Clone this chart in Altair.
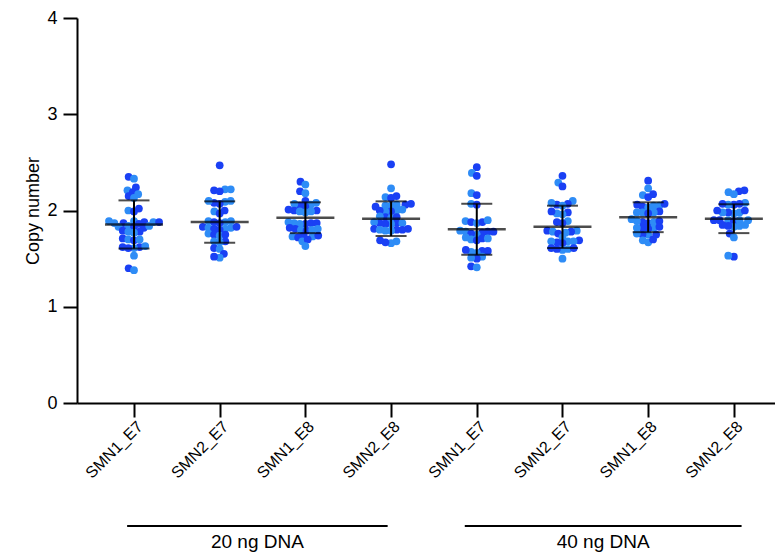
import math
import altair as alt
import pandas as pd

# ---------------- data ----------------
categories = ["SMN1_E7", "SMN2_E7", "SMN1_E8", "SMN2_E8",
              "SMN1_E7", "SMN2_E7", "SMN1_E8", "SMN2_E8"]
group_names = ["20 ng DNA", "40 ng DNA"]
group_start = [-0.08, 3.86]
group_end = [2.96, 7.09]

g1 = [2.35, 2.33, 2.24, 2.21, 2.19, 2.17, 2.15, 2.13, 2.02, 2.00, 1.99, 1.89, 1.88, 1.88,
      1.87, 1.89, 1.88, 1.87, 1.86, 1.84, 1.83, 1.83, 1.82, 1.84, 1.79, 1.78, 1.78, 1.77,
      1.71, 1.70, 1.69, 1.70, 1.62, 1.61, 1.62, 1.63, 1.61, 1.53, 1.40, 1.38]
g2 = [2.47, 2.22, 2.21, 2.22, 2.20, 2.10, 2.08, 2.09, 2.07, 2.10, 2.00, 1.99, 1.97, 1.89,
      1.88, 1.88, 1.87, 1.89, 1.83, 1.82, 1.81, 1.82, 1.83, 1.81, 1.80, 1.76, 1.75, 1.74,
      1.75, 1.68, 1.68, 1.67, 1.61, 1.60, 1.55, 1.51, 1.52]
g3 = [2.30, 2.27, 2.20, 2.18, 2.10, 2.06, 2.05, 2.07, 2.04, 2.08, 2.00, 1.99, 2.01, 1.98,
      2.00, 1.99, 1.87, 1.87, 1.86, 1.88, 1.87, 1.86, 1.81, 1.80, 1.79, 1.81, 1.82, 1.80,
      1.74, 1.73, 1.74, 1.73, 1.72, 1.68, 1.70, 1.63]
g4 = [2.48, 2.23, 2.15, 2.14, 2.13, 2.06, 2.07, 2.05, 2.06, 2.05, 2.04, 2.00, 1.99, 1.99,
      2.00, 2.01, 1.93, 1.92, 1.93, 1.94, 1.87, 1.86, 1.87, 1.88, 1.86, 1.87, 1.80, 1.79,
      1.81, 1.80, 1.81, 1.79, 1.80, 1.68, 1.69, 1.66, 1.67]
g5 = [2.45, 2.39, 2.36, 2.18, 2.16, 2.07, 2.06, 1.89, 1.88, 1.87, 1.88, 1.90, 1.78, 1.79,
      1.77, 1.78, 1.78, 1.75, 1.76, 1.72, 1.71, 1.70, 1.69, 1.71, 1.58, 1.57, 1.59, 1.56,
      1.58, 1.52, 1.50, 1.51, 1.42, 1.41]
g6 = [2.36, 2.29, 2.25, 2.10, 2.06, 2.08, 2.07, 2.05, 1.98, 1.97, 1.99, 1.96, 1.88, 1.89,
      1.87, 1.79, 1.78, 1.77, 1.79, 1.78, 1.76, 1.72, 1.69, 1.68, 1.66, 1.68, 1.67, 1.68,
      1.61, 1.59, 1.60, 1.60, 1.61, 1.50]
g7 = [2.31, 2.23, 2.17, 2.16, 2.14, 2.05, 2.04, 2.05, 2.06, 2.03, 2.07, 1.98, 1.99, 1.98,
      1.97, 1.98, 1.88, 1.89, 1.87, 1.88, 1.89, 1.91, 1.82, 1.82, 1.81, 1.82, 1.83, 1.75,
      1.75, 1.76, 1.75, 1.67, 1.70, 1.69]
g8 = [2.20, 2.19, 2.21, 2.17, 2.06, 2.08, 2.07, 2.06, 2.07, 1.97, 1.98, 1.98, 2.00, 1.98,
      2.00, 1.90, 1.89, 1.90, 1.90, 1.90, 1.90, 1.83, 1.84, 1.84, 1.85, 1.85, 1.76, 1.72,
      1.52, 1.53]
series = [g1, g2, g3, g4, g5, g6, g7, g8]

means = [1.855, 1.88, 1.925, 1.915, 1.805, 1.83, 1.93, 1.915]
sds = [0.25, 0.215, 0.16, 0.18, 0.265, 0.22, 0.155, 0.15]

# ---------------- layout ----------------
W, H = 698, 385
X_DOMAIN = [-0.665, 7.48]
Y_DOMAIN = [0, 4]
PX_X = W / (X_DOMAIN[1] - X_DOMAIN[0])
PX_Y = H / (Y_DOMAIN[1] - Y_DOMAIN[0])
SPACING = 5.7          # dots overlap a little, as in the reference
FONT = "Liberation Sans"
DARK, LIGHT = "#1a40f4", "#2e8cf6"


def swarm(vals):
    """simple beeswarm: x offsets (in x-data units) so that dots barely overlap"""
    order = sorted(range(len(vals)), key=lambda i: vals[i])
    placed = []
    offs = [0.0] * len(vals)
    for i in order:
        y = vals[i] * PX_Y
        cands = [0.0]
        for px, py in placed:
            dy = abs(py - y)
            if dy < SPACING:
                dx = math.sqrt(SPACING * SPACING - dy * dy)
                cands += [px + dx, px - dx]
        cands.sort(key=lambda c: (abs(c), c))
        chosen = 0.0
        for c in cands:
            if all((c - px) ** 2 + (y - py) ** 2 >= SPACING * SPACING - 1e-6
                   for px, py in placed):
                chosen = c
                break
        placed.append((chosen, y))
        offs[i] = chosen / PX_X
    return offs


rows = []
for gi, vals in enumerate(series):
    offs = swarm(vals)
    for k, (v, o) in enumerate(zip(vals, offs)):
        rows.append({"x": gi + o, "y": v, "tone": "a" if k % 2 == 0 else "b"})
points = pd.DataFrame(rows)

stats = pd.DataFrame({
    "x": list(range(len(categories))),
    "mean": means,
    "lo": [m - s for m, s in zip(means, sds)],
    "hi": [m + s for m, s in zip(means, sds)],
})

groups = pd.DataFrame({
    "name": group_names,
    "x": group_start,
    "x2": group_end,
    "xm": [(a + b) / 2 for a, b in zip(group_start, group_end)],
    "yl": [-1.278, -1.278],
    "yt": [-1.506, -1.506],
})

label_expr = "[" + ",".join("'%s'" % c for c in categories) + "][datum.value]"

xscale = alt.Scale(domain=X_DOMAIN, nice=False, zero=False)
yscale = alt.Scale(domain=Y_DOMAIN, nice=False)

x_axis = alt.Axis(values=list(range(len(categories))), labelExpr=label_expr,
                  labelAngle=-45, labelAlign="right", labelBaseline="top",
                  labelFontSize=16, labelFont=FONT, labelColor="black",
                  labelPadding=1, tickSize=14, tickWidth=2, tickColor="black",
                  domainColor="black", domainWidth=2, grid=False, title=None)
y_axis = alt.Axis(values=[0, 1, 2, 3, 4], format="d", labelFontSize=18, labelFont=FONT,
                  labelColor="black", labelPadding=6, tickSize=14, tickWidth=2,
                  tickColor="black", domainColor="black", domainWidth=2, grid=False,
                  title="Copy number", titleFont=FONT, titleFontSize=18,
                  titleFontWeight="normal", titleColor="black", titlePadding=4)

dots = alt.Chart(points).mark_circle(size=60, opacity=1).encode(
    x=alt.X("x:Q", scale=xscale, axis=x_axis),
    y=alt.Y("y:Q", scale=yscale, axis=y_axis),
    color=alt.Color("tone:N", scale=alt.Scale(domain=["a", "b"], range=[DARK, LIGHT]),
                    legend=None),
)

sd_line = alt.Chart(stats).mark_rule(color="black", strokeWidth=2).encode(
    x="x:Q", y="lo:Q", y2="hi:Q")
mean_tick = alt.Chart(stats).mark_tick(color="black", orient="horizontal", size=58,
                                       thickness=2.5).encode(x="x:Q", y="mean:Q")
lo_tick = alt.Chart(stats).mark_tick(color="black", orient="horizontal", size=31,
                                     thickness=2).encode(x="x:Q", y="lo:Q")
hi_tick = alt.Chart(stats).mark_tick(color="black", orient="horizontal", size=31,
                                     thickness=2).encode(x="x:Q", y="hi:Q")

glines = alt.Chart(groups).mark_rule(color="black", strokeWidth=2).encode(
    x="x:Q", x2="x2:Q", y="yl:Q")
gtext = alt.Chart(groups).mark_text(font=FONT, fontSize=19, color="black",
                                    align="center", baseline="alphabetic").encode(
    x="xm:Q", y="yt:Q", text="name:N")

chart = alt.layer(dots, sd_line, mean_tick, lo_tick, hi_tick, glines, gtext).properties(
    width=W, height=H,
    autosize=alt.AutoSizeParams(type="none"),
    padding={"left": 69, "top": 10, "right": 0, "bottom": 149},
).configure_view(stroke=None).configure_axis(grid=False)

chart.save("out.html", embed_options={"renderer": "svg", "actions": False})
